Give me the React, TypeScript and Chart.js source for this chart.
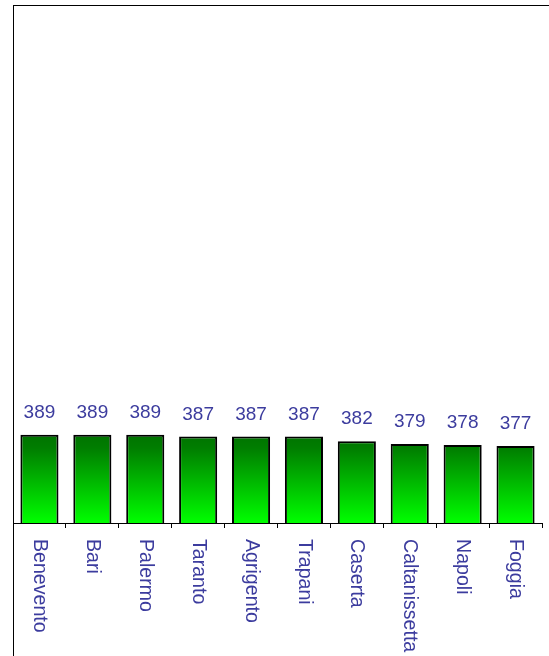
import React, { useEffect, useRef } from "react";
import { Chart, registerables } from "chart.js";

Chart.register(...registerables);

const categories = [
  "Benevento",
  "Bari",
  "Palermo",
  "Taranto",
  "Agrigento",
  "Trapani",
  "Caserta",
  "Caltanissetta",
  "Napoli",
  "Foggia",
];
const values = [389, 389, 389, 387, 387, 387, 382, 379, 378, 377];
const yMin = 295;
const yMax = 845;

const TEXT_COLOR = "rgb(60,60,158)";
const VALUE_FONT = "19px 'Liberation Sans', Arial, Helvetica, sans-serif";
const CAT_FONT = "19.6px 'Liberation Sans', Arial, Helvetica, sans-serif";

const labelsPlugin = {
  id: "customLabels",
  afterDatasetsDraw(chart: any) {
    const ctx = chart.ctx;
    const meta = chart.getDatasetMeta(0);
    const xScale = chart.scales.x;
    ctx.save();
    ctx.fillStyle = TEXT_COLOR;
    ctx.font = VALUE_FONT;
    meta.data.forEach((bar: any, i: number) => {
      ctx.textAlign = "center";
      ctx.textBaseline = "alphabetic";
      ctx.fillText(String(values[i]), bar.x, bar.y - 17);
    });
    ctx.font = CAT_FONT;
    categories.forEach((c, i) => {
      const x = xScale.getPixelForValue(i);
      const y = chart.chartArea.bottom + 16;
      ctx.save();
      ctx.translate(x, y);
      ctx.rotate(Math.PI / 2);
      ctx.textAlign = "left";
      ctx.textBaseline = "middle";
      ctx.fillText(c, 0, 0);
      ctx.restore();
    });
    ctx.restore();
  },
};

export default function App() {
  const ref = useRef<HTMLCanvasElement | null>(null);
  useEffect(() => {
    if (!ref.current) return;
    const chart = new Chart(ref.current, {
      type: "bar",
      data: {
        labels: categories,
        datasets: [
          {
            data: values,
            borderColor: "#000",
            borderWidth: 2,
            borderSkipped: false,
            backgroundColor: (c: any) => {
              const ch = c.chart;
              const area = ch.chartArea;
              if (!area) return "#00c000";
              const yTop = ch.scales.y.getPixelForValue(values[0]);
              const g = ch.ctx.createLinearGradient(0, yTop, 0, area.bottom);
              g.addColorStop(0, "rgb(0,115,0)");
              g.addColorStop(0.15, "rgb(0,125,0)");
              g.addColorStop(1, "rgb(0,255,0)");
              return g;
            },
          },
        ],
      },
      options: {
        responsive: false,
        animation: false,
        events: [],
        layout: { padding: { left: 13, right: 7, top: 6, bottom: 128 } },
        plugins: { legend: { display: false }, tooltip: { enabled: false } },
        scales: {
          x: {
            ticks: { display: false },
            grid: {
              display: true,
              drawOnChartArea: false,
              drawTicks: true,
              tickLength: 5,
              color: "#000",
              offset: true,
            },
            border: { display: true, color: "#000", width: 1 },
            afterFit: (s: any) => {
              s.height = 5;
            },
          },
          y: {
            display: false,
            min: yMin,
            max: yMax,
          },
        },
      },
      plugins: [labelsPlugin],
    });
    return () => chart.destroy();
  }, []);
  return (
    <div
      style={{
        position: "fixed",
        left: 0,
        top: 0,
        width: 549,
        height: 656,
        overflow: "hidden",
        background: "#fff",
      }}
    >
      <div
        style={{
          position: "absolute",
          left: 13,
          top: 5,
          width: 700,
          height: 800,
          borderLeft: "1px solid #000",
          borderTop: "1px solid #000",
        }}
      />
      <canvas
        ref={ref}
        width={549}
        height={656}
        style={{ position: "absolute", left: 0, top: 0, width: 549, height: 656 }}
      />
    </div>
  );
}
